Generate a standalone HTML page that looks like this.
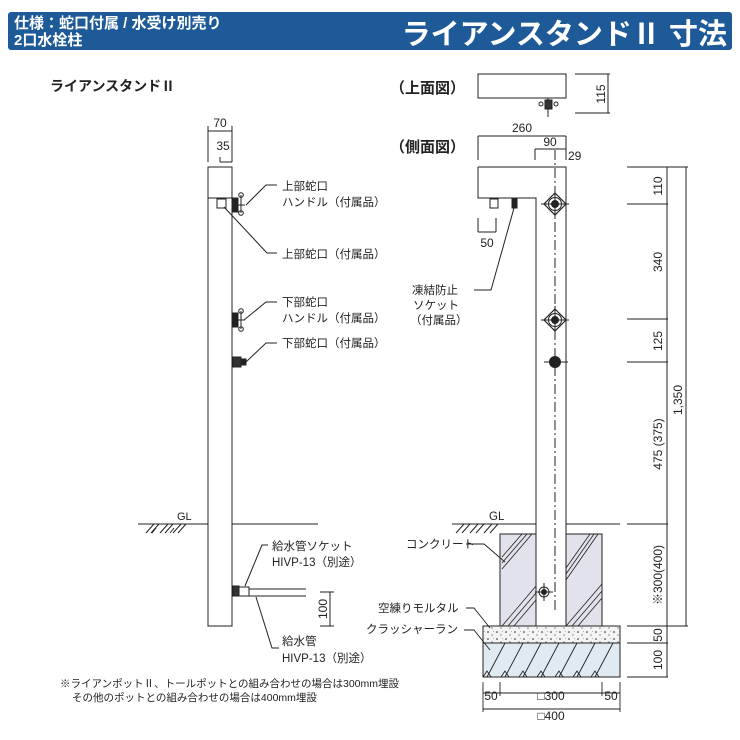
<!DOCTYPE html>
<html><head><meta charset="utf-8"><style>
html,body{margin:0;padding:0;background:#fff;}
svg{display:block;font-family:"Liberation Sans","Noto Sans CJK JP",sans-serif;}
</style></head><body>
<svg width="740" height="740" viewBox="0 0 740 740" xmlns="http://www.w3.org/2000/svg">
<defs>
<pattern id="dots" width="9" height="7" patternUnits="userSpaceOnUse">
<rect width="9" height="7" fill="#f4f4f4"/>
<circle cx="2" cy="2" r="0.8" fill="#222"/><circle cx="6" cy="5" r="0.6" fill="#444"/><circle cx="7.5" cy="1.5" r="0.4" fill="#666"/>
</pattern>
</defs>
<!-- header -->
<rect x="8" y="12" width="724" height="38" rx="3" fill="#1d5a97"/>
<text x="14" y="28" font-size="15" font-weight="bold" fill="#fff">仕様：蛇口付属 / 水受け別売り</text>
<text x="14" y="45" font-size="15" font-weight="bold" fill="#fff">2口水栓柱</text>
<text x="727" y="44" font-size="29" font-weight="bold" fill="#fff" text-anchor="end">ライアンスタンドⅡ 寸法</text>

<g stroke="#222" stroke-width="1" fill="none">
<!-- LEFT VIEW -->
<rect x="208" y="167" width="24" height="459" fill="#fff"/>
<line x1="208" y1="198" x2="232" y2="198"/>
<line x1="208" y1="131" x2="232" y2="131"/>
<line x1="208" y1="126" x2="208" y2="162"/><line x1="232" y1="126" x2="232" y2="162"/>
<line x1="220" y1="162" x2="232" y2="162"/><line x1="220" y1="157" x2="220" y2="162"/>
<rect x="217" y="199" width="9" height="9"/>
<!-- handles -->
<rect x="233" y="198" width="5" height="14" fill="#222"/><line x1="241" y1="195" x2="241" y2="213"/><circle cx="241" cy="195" r="2.3"/><circle cx="241" cy="213" r="2.3"/><line x1="238" y1="205" x2="245" y2="205"/>
<rect x="233" y="313" width="5" height="14" fill="#222"/><line x1="241" y1="311" x2="241" y2="329"/><circle cx="241" cy="311" r="2.3"/><circle cx="241" cy="329" r="2.3"/><line x1="238" y1="320" x2="245" y2="320"/>
<rect x="233" y="357" width="8" height="10" fill="#333"/><rect x="241" y="359" width="5" height="6" fill="#222"/>
<!-- leaders -->
<polyline points="246,205 266,185 277,185"/>
<polyline points="224,207 267,253 277,253"/>
<polyline points="244,320 266,302 277,302"/>
<polyline points="246,362 266,343 277,343"/>
<!-- GL left -->
<line x1="138" y1="524" x2="208" y2="524"/><line x1="232" y1="524" x2="318" y2="524"/>
<path d="M146,533 l8,-9 M151,533 l8,-9 M160,533 l8,-9 M165,533 l8,-9 M173,533 l8,-9 M178,533 l8,-9 M152,533 l4,-5 M170,533 l4,-5"/>
<!-- socket and pipe -->
<rect x="233" y="586" width="6" height="10" fill="#333"/><rect x="239" y="587" width="10" height="9"/>
<line x1="249" y1="589" x2="306" y2="589"/><line x1="249" y1="596" x2="306" y2="596"/>
<polyline points="245,586 262,545 268,545"/>
<polyline points="256,597 272,648 279,648"/>
<line x1="330" y1="592" x2="330" y2="626"/><line x1="320" y1="592" x2="334" y2="592"/><line x1="320" y1="626" x2="334" y2="626"/>

<!-- TOP VIEW -->
<rect x="478" y="74" width="88" height="24"/>
<line x1="548" y1="98" x2="548" y2="117"/>
<rect x="545" y="100" width="7" height="9" fill="#333"/><circle cx="541" cy="104" r="2"/><circle cx="556" cy="104" r="2"/>
<line x1="575" y1="74" x2="610" y2="74"/><line x1="575" y1="113" x2="610" y2="113"/><line x1="608" y1="74" x2="608" y2="113"/>

<!-- SIDE VIEW dims -->
<line x1="478" y1="136" x2="566" y2="136"/><line x1="478" y1="136" x2="478" y2="160"/><line x1="566" y1="136" x2="566" y2="160"/>
<line x1="535" y1="149" x2="566" y2="149"/><line x1="535" y1="149" x2="535" y2="160"/>
<line x1="478" y1="218" x2="478" y2="232"/><line x1="496" y1="218" x2="496" y2="232"/><line x1="478" y1="232" x2="496" y2="232"/>
<!-- side body -->
<polyline points="478,167 566,167 566,626" fill="none"/>
<polyline points="478,167 478,198 536,198 536,626"/>
<rect x="490" y="199" width="8" height="9"/><rect x="512" y="199" width="5" height="9" fill="#222"/>
<line x1="555" y1="150" x2="555" y2="612" stroke-dasharray="10,3,2,3"/>
<g>
<path d="M555,193 l11,11 l-11,11 l-11,-11z" stroke-width="1.2"/><circle cx="555" cy="204" r="6.5"/><circle cx="555" cy="204" r="3.5" fill="#222"/><line x1="541" y1="204" x2="569" y2="204"/><line x1="555" y1="190" x2="555" y2="218"/>
<path d="M555,309 l11,11 l-11,11 l-11,-11z" stroke-width="1.2"/><circle cx="555" cy="320" r="6.5"/><circle cx="555" cy="320" r="3.5" fill="#222"/><line x1="541" y1="320" x2="569" y2="320"/><line x1="555" y1="306" x2="555" y2="334"/>
<circle cx="555" cy="362" r="5.5" fill="#222"/><line x1="544" y1="362" x2="568" y2="362"/>
</g>
<polyline points="514,208 491,290 474,290"/>
<!-- right dims -->
<line x1="627" y1="167" x2="688" y2="167"/>
<line x1="627" y1="204" x2="668" y2="204"/>
<line x1="627" y1="319" x2="668" y2="319"/>
<line x1="627" y1="362" x2="668" y2="362"/>
<line x1="627" y1="524" x2="668" y2="524"/>
<line x1="627" y1="626" x2="688" y2="626"/>
<line x1="627" y1="643" x2="668" y2="643"/>
<line x1="627" y1="677" x2="668" y2="677"/>
<line x1="667" y1="167" x2="667" y2="677"/>
<line x1="686" y1="167" x2="686" y2="626"/>
<!-- GL right -->
<line x1="452" y1="524" x2="536" y2="524"/><line x1="566" y1="524" x2="620" y2="524"/>
<path d="M456,533 l8,-9 M462,533 l8,-9 M470,533 l8,-9 M476,533 l8,-9 M484,533 l8,-9 M490,533 l8,-9"/>
</g>
<!-- concrete -->
<rect x="500" y="534" width="36" height="92" fill="#e2e2ec" stroke="#222"/>
<rect x="566" y="534" width="36" height="92" fill="#e2e2ec" stroke="#222"/>
<g stroke="#222" stroke-width="0.8">
<path d="M502,557 l20,-23 M502,563 l25,-29 M502,569 l30,-35 M566,568 l24,-34 M566,574 l28,-40 M566,580 l32,-46 M502,626 l34,-40 M508,626 l28,-33 M514,626 l22,-26 M566,626 l36,-42 M572,626 l30,-35 M578,626 l24,-28"/>
</g>
<line x1="536" y1="626" x2="566" y2="626" stroke="#222"/>
<g stroke="#222" fill="none"><circle cx="544" cy="592" r="5"/><circle cx="544" cy="592" r="2.5" fill="#222"/><line x1="535" y1="592" x2="553" y2="592"/><line x1="544" y1="583" x2="544" y2="601"/></g>
<!-- mortar & crusher -->
<rect x="483" y="626" width="137" height="17" fill="url(#dots)" stroke="#222"/>
<rect x="483" y="643" width="137" height="34" fill="#dfeaf2" stroke="#222"/>
<g stroke="#222" stroke-width="0.9" fill="none">
<path d="M487,677 l18,-34 M505,677 l18,-34 M523,677 l18,-34 M541,677 l18,-34 M559,677 l18,-34 M577,677 l18,-34 M595,677 l18,-34"/>
<path d="M483,677 l4,-6 l4,6 M501,677 l4,-6 l4,6 M519,677 l4,-6 l4,6 M537,677 l4,-6 l4,6 M555,677 l4,-6 l4,6 M573,677 l4,-6 l4,6 M591,677 l4,-6 l4,6"/>
<!-- bottom dims -->
<line x1="483" y1="693" x2="620" y2="693"/><line x1="483" y1="709" x2="620" y2="709"/>
<line x1="483" y1="682" x2="483" y2="712"/><line x1="620" y1="682" x2="620" y2="712"/>
<line x1="500" y1="682" x2="500" y2="696"/><line x1="602" y1="682" x2="602" y2="696"/>
<!-- labels leaders -->
<polyline points="466,544 484,544 505,562"/>
<polyline points="466,608 474,608 490,628"/>
<polyline points="464,630 474,630 490,650"/>
</g>

<g font-size="11.5" fill="#222">
<text x="50" y="91" font-size="14" font-weight="bold">ライアンスタンドⅡ</text>
<text x="220" y="127" text-anchor="middle" font-size="12">70</text>
<text x="223" y="150" text-anchor="middle" font-size="12">35</text>
<text x="282" y="190">上部蛇口</text>
<text x="282" y="206">ハンドル（付属品）</text>
<text x="282" y="258">上部蛇口（付属品）</text>
<text x="282" y="306">下部蛇口</text>
<text x="282" y="322">ハンドル（付属品）</text>
<text x="282" y="347">下部蛇口（付属品）</text>
<text x="177" y="520" font-size="11">GL</text>
<text x="272" y="550">給水管ソケット</text>
<text x="272" y="566">HIVP-13（別途）</text>
<text x="282" y="645">給水管</text>
<text x="282" y="662">HIVP-13（別途）</text>
<text x="327" y="609" transform="rotate(-90 327 609)" text-anchor="middle" font-size="12">100</text>
<text x="60" y="687" font-size="10.5">※ライアンポットⅡ、トールポットとの組み合わせの場合は300mm埋設</text>
<text x="72" y="701" font-size="10.5">その他のポットとの組み合わせの場合は400mm埋設</text>

<text x="390" y="93" font-size="15" font-weight="bold">（上面図）</text>
<text x="390" y="152" font-size="15" font-weight="bold">（側面図）</text>
<text x="605" y="94" transform="rotate(-90 605 94)" text-anchor="middle" font-size="12">115</text>
<text x="522" y="132" text-anchor="middle" font-size="12">260</text>
<text x="550" y="146" text-anchor="middle" font-size="12">90</text>
<text x="568" y="160" font-size="12">29</text>
<text x="487" y="247" text-anchor="middle" font-size="12">50</text>
<text x="412" y="294">凍結防止</text>
<text x="413" y="309">ソケット</text>
<text x="410" y="324">（付属品）</text>
<g font-size="12" text-anchor="middle">
<text x="662" y="186" transform="rotate(-90 662 186)">110</text>
<text x="662" y="262" transform="rotate(-90 662 262)">340</text>
<text x="662" y="341" transform="rotate(-90 662 341)">125</text>
<text x="662" y="444" transform="rotate(-90 662 444)">475 (375)</text>
<text x="682" y="400" transform="rotate(-90 682 400)">1,350</text>
<text x="662" y="575" transform="rotate(-90 662 575)">※300(400)</text>
<text x="662" y="635" transform="rotate(-90 662 635)">50</text>
<text x="662" y="660" transform="rotate(-90 662 660)">100</text>
</g>
<text x="489" y="520">GL</text>
<text x="406" y="548">コンクリート</text>
<text x="378" y="612">空練りモルタル</text>
<text x="366" y="633">クラッシャーラン</text>
<text x="491" y="700" text-anchor="middle" font-size="12">50</text>
<text x="551" y="700" text-anchor="middle" font-size="12">□300</text>
<text x="611" y="700" text-anchor="middle" font-size="12">50</text>
<text x="551" y="720" text-anchor="middle" font-size="12">□400</text>
</g>
</svg>
</body></html>
